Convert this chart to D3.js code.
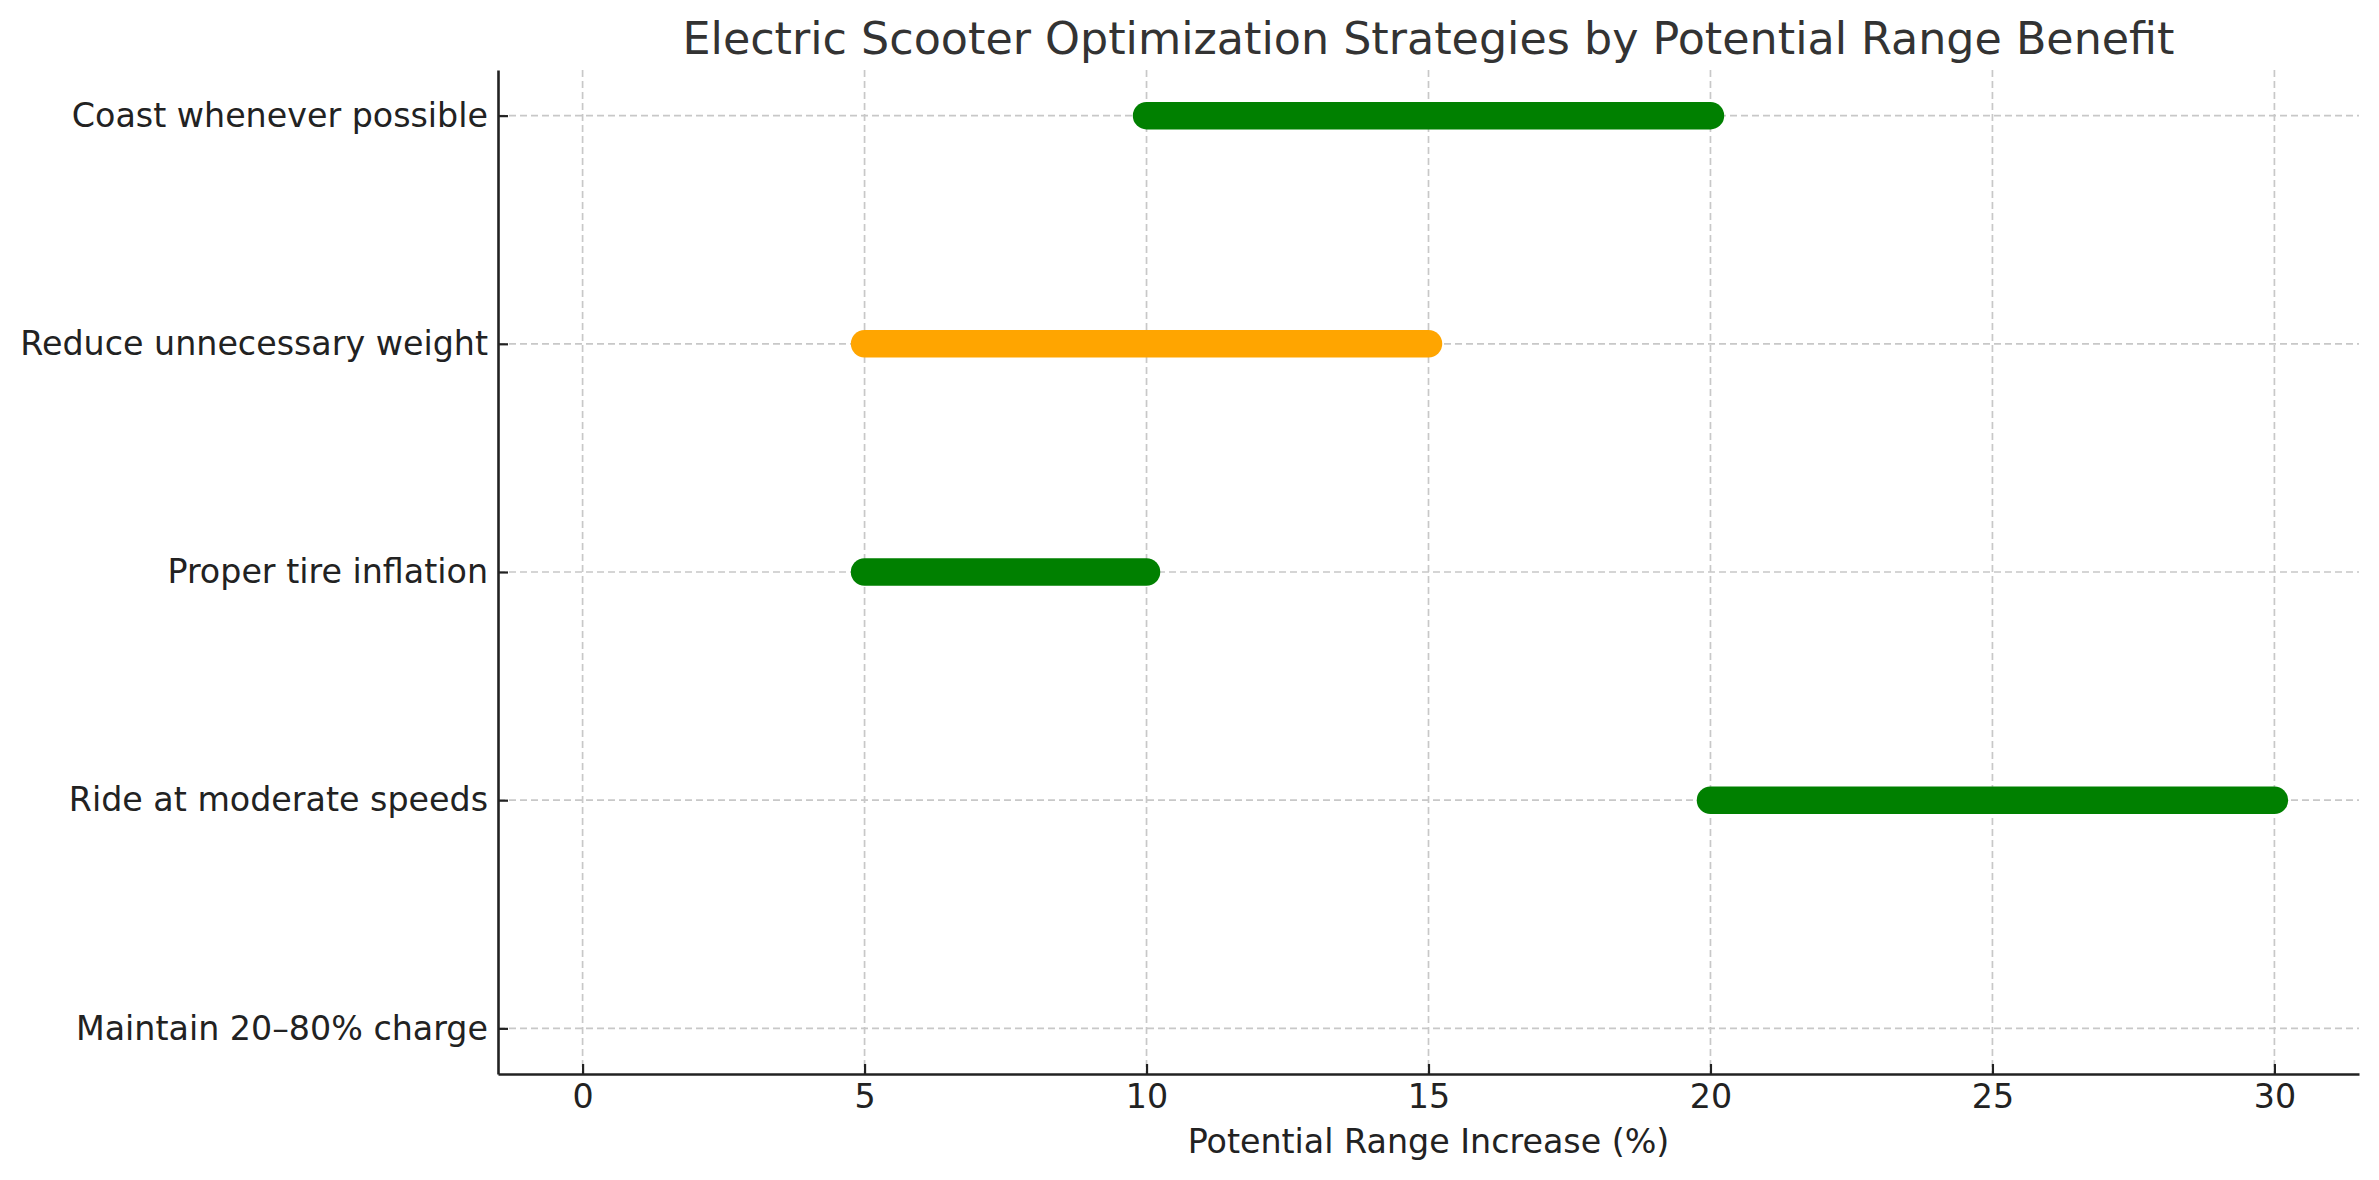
<!DOCTYPE html>
<html>
<head>
<meta charset="utf-8">
<script src="https://cdn.jsdelivr.net/npm/d3@7"></script>
<style>
  html, body { margin: 0; padding: 0; background: #fff; }
  svg { display: block; font-family: "DejaVu Sans", sans-serif; }
</style>
</head>
<body>
<svg id="chart" width="2379" height="1180"></svg>
<script>
// Strategies, listed bottom to top as they appear on the y axis
var strategies = [
  'Maintain 20–80% charge',
  'Ride at moderate speeds',
  'Proper tire inflation',
  'Reduce unnecessary weight',
  'Coast whenever possible'
];

// Range benefit (%) low / high end per strategy (null = no bar drawn)
var benefitLow = [null, 20, 5, 5, 10];
var benefitHigh = [null, 30, 10, 15, 20];

// Benefit level per strategy, picks the bar colour
var benefitLevel = [null, 'high', 'high', 'medium', 'high'];

var xTicks = [0, 5, 10, 15, 20, 25, 30];

var TITLE = 'Electric Scooter Optimization Strategies by Potential Range Benefit';
var X_LABEL = 'Potential Range Increase (%)';

// Plot area
var MARGIN = { left: 498, right: 2379 - 2359, top: 70, bottom: 1180 - 1074 };
var WIDTH = 2379, HEIGHT = 1180;
var LEVEL_COLORS = { high: '#008000', medium: '#FFA500' };

var svg = d3.select('#chart');
var plotW = WIDTH - MARGIN.left - MARGIN.right;
var plotH = HEIGHT - MARGIN.top - MARGIN.bottom;

// Domain padded by 5% like the original plot
var x = d3.scaleLinear().domain([-1.5, 31.5]).range([0, plotW]);
var y = d3.scaleLinear().domain([-0.2, strategies.length - 0.8]).range([plotH, 0]);

var g = svg.append('g')
  .attr('transform', 'translate(' + MARGIN.left + ',' + MARGIN.top + ')');

// Grid lines
g.append('g').selectAll('line.vgrid')
  .data(xTicks)
  .join('line')
  .attr('x1', function(d) { return x(d); })
  .attr('x2', function(d) { return x(d); })
  .attr('y1', 0).attr('y2', plotH)
  .attr('stroke', '#c8c8c8').attr('stroke-width', 1.7)
  .attr('stroke-dasharray', '7,4');

g.append('g').selectAll('line.hgrid')
  .data(strategies)
  .join('line')
  .attr('x1', 0).attr('x2', plotW)
  .attr('y1', function(d, i) { return y(i); })
  .attr('y2', function(d, i) { return y(i); })
  .attr('stroke', '#c8c8c8').attr('stroke-width', 1.7)
  .attr('stroke-dasharray', '7,4');

// Range bars with round caps
var bars = strategies.map(function(name, i) {
  return { name: name, i: i, lo: benefitLow[i], hi: benefitHigh[i], level: benefitLevel[i] };
}).filter(function(d) { return d.lo != null && d.hi != null; });

g.append('g').selectAll('line.bar')
  .data(bars)
  .join('line')
  .attr('x1', function(d) { return x(d.lo); })
  .attr('x2', function(d) { return x(d.hi); })
  .attr('y1', function(d) { return y(d.i); })
  .attr('y2', function(d) { return y(d.i); })
  .attr('stroke', function(d) { return LEVEL_COLORS[d.level]; })
  .attr('stroke-width', 27.5)
  .attr('stroke-linecap', 'round');

// Axes (ticks pointing inward)
var xAxis = d3.axisBottom(x).tickValues(xTicks).tickSizeInner(-10).tickSizeOuter(0).tickPadding(10);
var yAxis = d3.axisLeft(y).tickValues(d3.range(strategies.length))
  .tickFormat(function(i) { return strategies[i]; })
  .tickSizeInner(-10).tickSizeOuter(0).tickPadding(10);

var gx = g.append('g').attr('transform', 'translate(0,' + plotH + ')').call(xAxis);
var gy = g.append('g').call(yAxis);

[gx, gy].forEach(function(ax) {
  ax.select('.domain').attr('stroke', '#222').attr('stroke-width', 2.6);
  ax.selectAll('.tick line').attr('stroke', '#222').attr('stroke-width', 2.2);
  ax.selectAll('.tick text')
    .attr('fill', '#222')
    .style('font-size', '33.3px')
    .style('font-family', '"DejaVu Sans", sans-serif');
});
gx.selectAll('.tick text').attr('dy', '0.71em');

// Axis label
svg.append('text')
  .attr('x', MARGIN.left + plotW / 2)
  .attr('y', 1153)
  .attr('text-anchor', 'middle')
  .attr('fill', '#222')
  .style('font-size', '33.3px')
  .text(X_LABEL);

// Title
svg.append('text')
  .attr('x', MARGIN.left + plotW / 2)
  .attr('y', 54)
  .attr('text-anchor', 'middle')
  .attr('fill', '#333')
  .style('font-size', '44.4px')
  .text(TITLE);
</script>
</body>
</html>
